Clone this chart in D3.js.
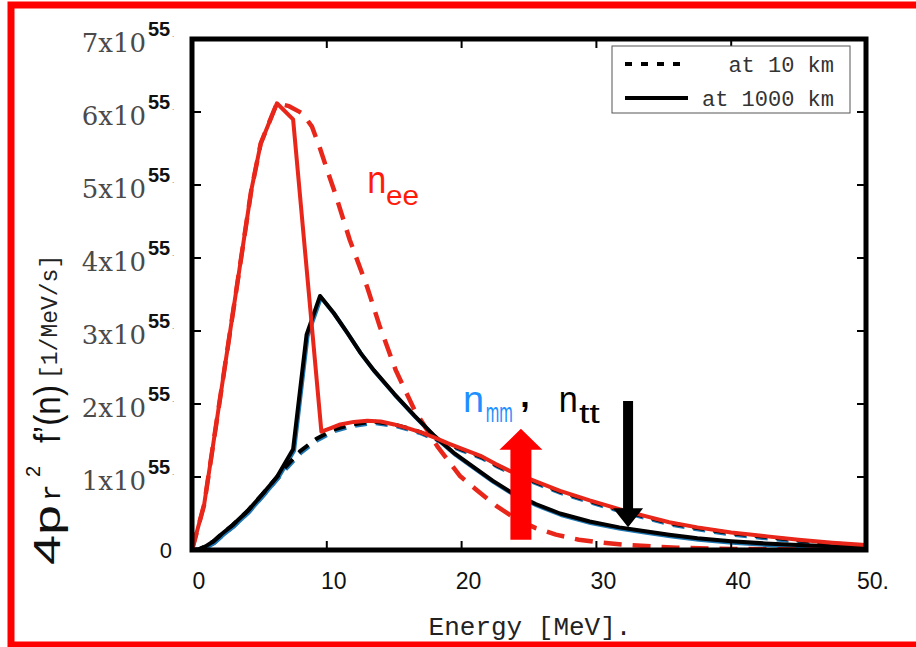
<!DOCTYPE html>
<html>
<head>
<meta charset="utf-8">
<script src="https://cdn.jsdelivr.net/npm/d3@7"></script>
<style>
  body { margin: 0; background: #fff; }
  svg { display: block; }
</style>
</head>
<body>
<svg id="chart" width="916" height="647"></svg>
<script>
// energies [MeV] and 4 pi r^2 f(nu) in units of 1e55 /MeV/s
const nueFarE = [0, 0.9, 4.4, 5.1, 6.3, 7.5, 9.6, 10.3, 11, 12, 13, 14, 15, 16, 17, 18, 19, 20, 21.4, 22.5, 23.6, 25.5, 27.3, 29.5, 31.7, 33.5, 35.4, 37.5, 40, 42.5, 45, 47.5, 50];
const nueFarV = [0, 0.62, 4.93, 5.57, 6.12, 5.9, 1.62, 1.67, 1.72, 1.755, 1.77, 1.76, 1.72, 1.67, 1.61, 1.54, 1.46, 1.39, 1.29, 1.18, 1.08, 0.94, 0.81, 0.68, 0.56, 0.47, 0.38, 0.31, 0.24, 0.19, 0.14, 0.1, 0.07];

const nueNearE = [0, 0.9, 4.4, 5.1, 6.3, 7.2, 8.2, 8.9, 9.5, 10, 10.7, 11.7, 13, 13.9, 15.1, 16.5, 18.2, 19.9, 21, 22.6, 24, 25.5, 27, 28.7, 30, 32.2, 36, 40, 50];
const nueNearV = [0, 0.62, 4.93, 5.57, 6.12, 6.08, 5.98, 5.8, 5.5, 5.22, 4.84, 4.25, 3.6, 3.08, 2.47, 1.92, 1.42, 1.01, 0.84, 0.6, 0.43, 0.3, 0.21, 0.14, 0.11, 0.07, 0.03, 0.015, 0];

const numFarE = [0, 0.5, 1, 1.6, 2.2, 3, 4.1, 5.2, 6.3, 7.5, 8.5, 9.5, 10.5, 11.5, 12.5, 13.5, 15, 16.5, 18, 19.5, 21, 22.3, 23.6, 25.5, 27.3, 29.5, 31.7, 33.5, 35.4, 37.5, 40, 42.5, 45, 47.5, 50];
const numFarV = [0, 0.01, 0.05, 0.12, 0.22, 0.34, 0.53, 0.76, 1.0, 1.38, 2.95, 3.48, 3.25, 2.98, 2.7, 2.46, 2.14, 1.84, 1.56, 1.32, 1.12, 0.95, 0.8, 0.63, 0.5, 0.39, 0.31, 0.26, 0.21, 0.16, 0.12, 0.09, 0.07, 0.05, 0.04];

const numNearE = [0, 0.5, 1, 1.6, 2.2, 3, 4.1, 5.2, 6.3, 7, 8, 9.2, 10.5, 11.9, 13.4, 15, 16, 17, 18, 19, 20, 21.4, 22.5, 23.6, 25.5, 27.3, 29.5, 31.7, 33.5, 35.4, 37.5, 40, 42.5, 45, 47.5, 50];
const numNearV = [0, 0.01, 0.05, 0.12, 0.22, 0.34, 0.53, 0.76, 1.0, 1.15, 1.35, 1.52, 1.65, 1.72, 1.76, 1.72, 1.67, 1.61, 1.53, 1.45, 1.38, 1.28, 1.17, 1.07, 0.93, 0.8, 0.67, 0.55, 0.46, 0.37, 0.3, 0.23, 0.18, 0.13, 0.09, 0.06];

const xTicks = [0, 10, 20, 30, 40, 50];
const yTicks = [0, 1, 2, 3, 4, 5, 6, 7];
const legendLabels = ["at 10 km", "at 1000 km"];

// arrow annotations [E, value]
const upArrow = {x: 24.4, from: 0.14, to: 1.66};
const downArrow = {x: 32.35, from: 2.04, to: 0.31};

const svg = d3.select("#chart");
const x = d3.scaleLinear().domain([0, 50]).range([192, 866]);
const y = d3.scaleLinear().domain([0, 7]).range([550, 39]);

svg.append("rect").attr("width", 916).attr("height", 647).attr("fill", "#fff");
// outer red frame
svg.append("rect").attr("x", 11).attr("y", 5).attr("width", 930).attr("height", 640)
  .attr("fill", "none").attr("stroke", "#ff0000").attr("stroke-width", 7);

const zip = (E, V) => E.map((e, i) => [e, V[i]]);
const line = d3.line().x(d => x(d[0])).y(d => y(d[1]));

const plot = svg.append("g");
plot.append("defs").append("clipPath").attr("id", "clip")
  .append("rect").attr("x", x(0)).attr("y", y(7)).attr("width", x(50) - x(0)).attr("height", y(0) - y(7));
const curves = plot.append("g").attr("clip-path", "url(#clip)")
  .attr("fill", "none").attr("stroke-linejoin", "round");

// blue shadows under the mu/tau curves
curves.append("path").attr("d", line(zip(numNearE, numNearV))).attr("transform", "translate(1,1.5)")
  .attr("stroke", "#1f78b4").attr("stroke-width", 4).attr("stroke-dasharray", "12,9");
curves.append("path").attr("d", line(zip(numFarE, numFarV))).attr("transform", "translate(1,1.5)")
  .attr("stroke", "#1f78b4").attr("stroke-width", 4);

curves.append("path").attr("d", line(zip(numNearE, numNearV)))
  .attr("stroke", "#000").attr("stroke-width", 4).attr("stroke-dasharray", "12,9");
curves.append("path").attr("d", line(zip(nueNearE, nueNearV)))
  .attr("stroke", "#e8261a").attr("stroke-width", 4.5).attr("stroke-dasharray", "18,11");
curves.append("path").attr("d", line(zip(numFarE, numFarV)))
  .attr("stroke", "#000").attr("stroke-width", 4);
curves.append("path").attr("d", line(zip(nueFarE, nueFarV)))
  .attr("stroke", "#e8261a").attr("stroke-width", 4);

// axes box and inward ticks
const ax = svg.append("g").attr("stroke", "#000");
ax.append("rect").attr("x", x(0)).attr("y", y(7)).attr("width", x(50) - x(0)).attr("height", y(0) - y(7))
  .attr("fill", "none").attr("stroke-width", 5);
xTicks.slice(1, -1).forEach(t => {
  ax.append("line").attr("x1", x(t)).attr("x2", x(t)).attr("y1", y(0)).attr("y2", y(0) - 9).attr("stroke-width", 2);
  ax.append("line").attr("x1", x(t)).attr("x2", x(t)).attr("y1", y(7)).attr("y2", y(7) + 9).attr("stroke-width", 2);
});
yTicks.slice(1, -1).forEach(t => {
  ax.append("line").attr("x1", x(0)).attr("x2", x(0) + 9).attr("y1", y(t)).attr("y2", y(t)).attr("stroke-width", 2);
  ax.append("line").attr("x1", x(50)).attr("x2", x(50) - 9).attr("y1", y(t)).attr("y2", y(t)).attr("stroke-width", 2);
});

// x tick labels
svg.append("g").selectAll("text").data(xTicks).join("text")
  .attr("x", d => x(d) + 7).attr("y", 589)
  .attr("text-anchor", "middle")
  .attr("font-family", "Liberation Sans, Arial, sans-serif").attr("font-size", 23).attr("fill", "#111")
  .text(d => d === 50 ? "50." : d);

// y tick labels
const yl = svg.append("g");
yTicks.forEach(t => {
  if (t === 0) {
    yl.append("text").attr("x", 172).attr("y", y(0) + 8).attr("text-anchor", "end")
      .attr("font-family", "Liberation Sans, Arial, sans-serif").attr("font-size", 22).attr("fill", "#111").text("0");
    return;
  }
  yl.append("text").attr("x", 146).attr("y", y(t) + 13).attr("text-anchor", "end")
    .attr("font-family", "DejaVu Serif, serif").attr("font-size", 26)
    .attr("fill", "#4a4a4a")
    .text(t + "x10");
  yl.append("text").attr("x", 148).attr("y", y(t) - 3)
    .attr("font-family", "Liberation Sans, Arial, sans-serif").attr("font-size", 20).attr("font-weight", "bold")
    .attr("fill", "#111").text("55");
  yl.append("text").attr("x", 172).attr("y", y(t) - 2)
    .attr("font-family", "Liberation Sans, Arial, sans-serif").attr("font-size", 8).attr("fill", "#555").text(".");
});

// y axis title (rotated)
const yt = svg.append("g").attr("transform", "translate(60,565) rotate(-90)");
yt.append("text").attr("x", 0).attr("y", 0)
  .attr("font-family", "Liberation Sans, Arial, sans-serif").attr("font-size", 36).attr("fill", "#111")
  .attr("textLength", 60).attr("lengthAdjust", "spacingAndGlyphs").text("4p");
yt.append("text").attr("x", 64).attr("y", 0)
  .attr("font-family", "Liberation Mono, monospace").attr("font-size", 28).attr("fill", "#111").text("r");
yt.append("text").attr("x", 88).attr("y", -20)
  .attr("font-family", "Liberation Sans, Arial, sans-serif").attr("font-size", 20).attr("fill", "#111").text("2");
yt.append("text").attr("x", 122).attr("y", 0)
  .attr("font-family", "Liberation Sans, Arial, sans-serif").attr("font-size", 36).attr("fill", "#111")
  .attr("textLength", 58).attr("lengthAdjust", "spacingAndGlyphs").text("f\u2019(n)");
yt.append("text").attr("x", 186).attr("y", -3)
  .attr("font-family", "Liberation Mono, monospace").attr("font-size", 23).attr("fill", "#222").text("[1/MeV/s]");

// x axis title
svg.append("text").attr("x", 530).attr("y", 635).attr("text-anchor", "middle")
  .attr("font-family", "Liberation Mono, monospace").attr("font-size", 26).attr("fill", "#222")
  .text("Energy [MeV].");

// legend
const lg = svg.append("g");
lg.append("rect").attr("x", 612).attr("y", 46).attr("width", 238).attr("height", 67)
  .attr("fill", "#fff").attr("stroke", "#555").attr("stroke-width", 1);
lg.append("line").attr("x1", 625).attr("x2", 688).attr("y1", 64).attr("y2", 64)
  .attr("stroke", "#000").attr("stroke-width", 4).attr("stroke-dasharray", "7,9");
lg.append("line").attr("x1", 625).attr("x2", 688).attr("y1", 98).attr("y2", 98)
  .attr("stroke", "#000").attr("stroke-width", 4);
lg.selectAll("text").data(legendLabels).join("text")
  .attr("x", 834).attr("y", (d, i) => 72 + i * 34).attr("text-anchor", "end")
  .attr("font-family", "Liberation Mono, monospace").attr("font-size", 22).attr("fill", "#333")
  .text(d => d);

// arrows
function arrow(a, shaftW, headW, headL, color) {
  const dir = a.to > a.from ? 1 : -1;
  const x0 = x(a.x), yb = y(a.from), yt2 = y(a.to);
  const yh = yt2 + dir * headL;
  const pts = [[x0 - shaftW / 2, yb], [x0 - shaftW / 2, yh], [x0 - headW / 2, yh], [x0, yt2],
    [x0 + headW / 2, yh], [x0 + shaftW / 2, yh], [x0 + shaftW / 2, yb]];
  svg.append("path").attr("d", d3.line()(pts) + "Z").attr("fill", color);
}
arrow(upArrow, 21, 43, 21, "#ff0000");
arrow(downArrow, 10, 30, 19, "#000");

// curve labels, horizontally squeezed/stretched with a scale transform
const ann = svg.append("g").attr("font-family", "Liberation Sans, Arial, sans-serif");
function label(px, py, txt, size, color, sx, weight) {
  ann.append("text").attr("transform", `translate(${px},${py}) scale(${sx},1)`)
    .attr("font-size", size).attr("font-weight", weight || "normal").attr("fill", color).text(txt);
}
label(x(13.0), 193, "n", 38, "#ff1a0a", 0.9);
label(x(14.4), 205, "ee", 28, "#ff1a0a", 1.06);
label(x(20.1), 412, "n", 36, "#1e8fff", 1.05);
label(x(21.8), 422, "mm", 27, "#1e8fff", 0.6);
label(x(24.35), 407, ",", 34, "#000", 1, "bold");
label(x(27.2), 412, "n", 36, "#000", 0.95);
label(x(28.7), 423, "tt", 27, "#000", 1.4);
</script>
</body>
</html>
